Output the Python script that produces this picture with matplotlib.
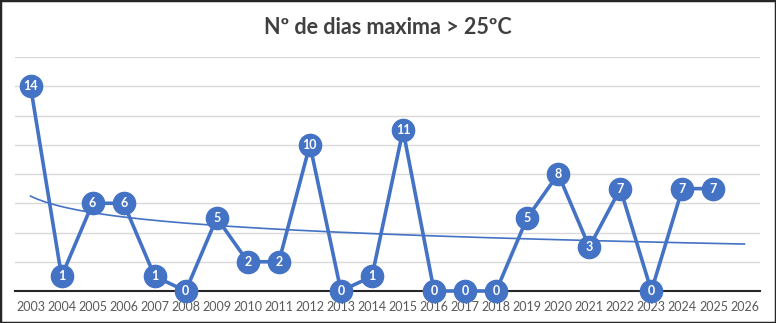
import numpy as np
import matplotlib
matplotlib.use('Agg')
import matplotlib.pyplot as plt
from matplotlib.patches import Rectangle

years = [str(y) for y in range(2003, 2027)]
days = [14, 1, 6, 6, 1, 0, 5, 2, 2, 10, 0, 1, 11, 0, 0, 0, 5, 8, 3, 7, 0, 7, 7, np.nan]
title = "Nº de dias maxima > 25ºC"

blue = '#4472C4'
plt.rcParams['font.family'] = ['Lato', 'DejaVu Sans']

fig = plt.figure(figsize=(7.76, 3.23), dpi=100)
ax = fig.add_axes([15/776, 32/323, 745/776, 234/323])

x = np.arange(len(years))
y = np.array(days, dtype=float)

# logarithmic trendline like Excel (x = 1..n)
ok = ~np.isnan(y)
a, b = np.polyfit(np.log(x[ok] + 1), y[ok], 1)
xt = np.linspace(0, len(years) - 1, 200)
ax.plot(xt, a*np.log(xt + 1) + b, color=blue, lw=1.2, zorder=2)

ax.plot(x, y, color=blue, lw=2.6, marker='o', ms=16, mfc=blue, mec=blue, zorder=3, clip_on=False)
for xi, yi in zip(x, y):
    if not np.isnan(yi):
        ax.text(xi, yi, f"{int(yi)}", ha='center', va='center', color='white',
                fontsize=9, fontweight='bold', zorder=4)

ax.set_xlim(-0.5, len(years) - 0.5)
ax.set_ylim(0, 16)
ax.set_yticks(np.arange(0, 17, 2))
ax.yaxis.grid(True, color='#d9d9d9', lw=1)
ax.set_axisbelow(True)
ax.tick_params(axis='y', left=False, labelleft=False)
ax.set_xticks(x)
ax.set_xticklabels(years, fontsize=9, color='#595959')
ax.tick_params(axis='x', length=0, pad=7)
for s in ['top', 'right', 'left']:
    ax.spines[s].set_visible(False)
ax.spines['bottom'].set_color('#262626')
ax.spines['bottom'].set_linewidth(1.5)
ax.spines['bottom'].set_zorder(2.5)

fig.text(0.5, 1 - 28/323, title, ha='center', va='center', fontsize=15.5,
         fontweight='bold', color='#404040')

fig.patches.append(Rectangle((0, 0), 1, 1, transform=fig.transFigure, fill=False,
                             ec='#262626', lw=2.5))

plt.savefig('out.png', dpi=100)
plt.close()
